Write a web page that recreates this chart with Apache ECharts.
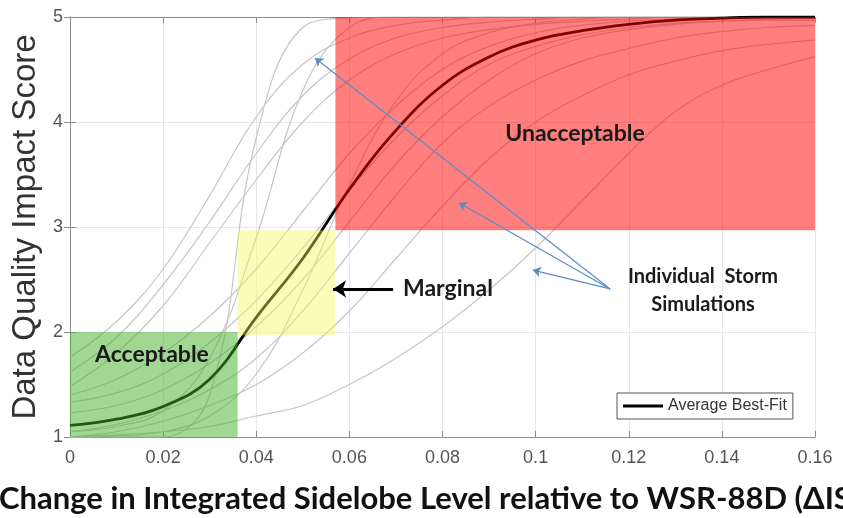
<!DOCTYPE html>
<html>
<head>
<meta charset="utf-8">
<title>Data Quality Impact Score</title>
<script src="https://cdn.jsdelivr.net/npm/echarts@6/dist/echarts.min.js"></script>
<style>
  html, body { margin: 0; padding: 0; background: #fff; }
  #chart { width: 843px; height: 518px; }
</style>
</head>
<body>
<div id="chart"></div>
<script>
const xSamples = [0, 0.01, 0.02, 0.03, 0.04, 0.05, 0.06, 0.07, 0.08, 0.09, 0.1, 0.11, 0.12, 0.13, 0.14, 0.15, 0.16]

const avgFit = [1.11, 1.17, 1.29, 1.55, 2.14, 2.7, 3.36, 3.92, 4.35, 4.62, 4.78, 4.87, 4.93, 4.97, 4.99, 5, 5]

// individual storm simulations (grey)
const storm01 = [1, 1, 1, 1.4, 3.85, 4.9, 4.99, 5, 5, 5, 5, 5, 5, 5, 5, 5, 5]
const storm02 = [1.76, 2.1, 2.6, 3.3, 4.05, 4.55, 4.8, 4.92, 4.97, 5, 5, 5, 5, 5, 5, 5, 5]
const storm03 = [1.62, 1.95, 2.45, 3.05, 3.7, 4.25, 4.6, 4.8, 4.9, 4.95, 4.98, 5, 5, 5, 5, 5, 5]
const storm04 = [1.48, 1.8, 2.25, 2.85, 3.45, 4.0, 4.4, 4.65, 4.8, 4.88, 4.93, 4.96, 4.98, 5, 5, 5, 5]
const storm05 = [1.05, 1.1, 1.25, 1.75, 2.9, 4.3, 4.9, 5, 5, 5, 5, 5, 5, 5, 5, 5, 5]
const storm06 = [1.4, 1.55, 1.8, 2.15, 2.6, 3.15, 3.7, 4.15, 4.5, 4.72, 4.85, 4.92, 4.96, 4.98, 4.99, 5, 5]
const storm07 = [1.33, 1.42, 1.6, 1.9, 2.3, 2.8, 3.35, 3.85, 4.25, 4.55, 4.72, 4.83, 4.9, 4.94, 4.96, 4.97, 4.97]
const storm08 = [1.05, 1.12, 1.25, 1.45, 1.75, 2.2, 2.75, 3.3, 3.8, 4.15, 4.4, 4.58, 4.7, 4.8, 4.86, 4.9, 4.92]
const storm09 = [1, 1.05, 1.15, 1.3, 1.5, 1.8, 2.2, 2.7, 3.2, 3.65, 4.0, 4.25, 4.45, 4.58, 4.68, 4.74, 4.78]
const storm10 = [1, 1.02, 1.05, 1.1, 1.2, 1.3, 1.5, 1.75, 2.05, 2.4, 2.8, 3.25, 3.7, 4.1, 4.35, 4.5, 4.62]
const storm11 = [1.23, 1.3, 1.45, 1.7, 2.05, 2.5, 3.05, 3.6, 4.05, 4.4, 4.65, 4.8, 4.88, 4.93, 4.96, 4.98, 4.99]
const storm12 = [1, 1.01, 1.05, 1.2, 1.6, 2.4, 3.4, 4.2, 4.65, 4.85, 4.94, 4.98, 5, 5, 5, 5, 5]
const storms = [storm01, storm02, storm03, storm04, storm05, storm06, storm07, storm08, storm09, storm10, storm11, storm12]

// acceptable / marginal / unacceptable boxes
const zoneNames = ['Acceptable', 'Marginal', 'Unacceptable']
const zoneX0 = [0, 0.036, 0.057]
const zoneX1 = [0.036, 0.057, 0.16]
const zoneY0 = [1, 1.97, 2.97]
const zoneY1 = [2, 2.97, 5]
const zoneColors = ['rgba(70,175,40,0.5)', 'rgba(245,245,90,0.42)', 'rgba(255,0,0,0.5)']

// arrows pointing at storm curves, from the label to each tip
const stormArrowFrom = [0.116, 2.41]
const stormArrowTips = [[0.0526, 4.61], [0.0835, 3.23], [0.0994, 2.59]]
const marginalArrow = [[0.0694, 2.41], [0.0565, 2.41]]

const chart = echarts.init(document.getElementById('chart'))

const axisGrey = '#8c8c8c'
const pair = (ys) => xSamples.map((x, i) => [x, ys[i]])

const stormSeries = storms.map((ys, idx) => ({
  type: 'line',
  data: pair(ys),
  smooth: 0.4,
  showSymbol: false,
  silent: true,
  z: 2,
  lineStyle: { color: '#c6c6c6', width: 1.2 },
  markLine: idx === 0 ? {
    z: 20,
    silent: true,
    symbol: ['none', 'arrow'],
    symbolSize: 8,
    label: { show: false },
    lineStyle: { color: '#5b8cc4', width: 1.2, type: 'solid' },
    data: stormArrowTips.map((tip) => [{ coord: stormArrowFrom }, { coord: tip }])
  } : undefined
}))

chart.setOption({
  animation: false,
  grid: { left: 70, right: 28, top: 17, bottom: 81 },
  legend: {
    data: ['Average Best-Fit'],
    left: 617,
    top: 393,
    icon: 'rect',
    itemWidth: 40,
    itemHeight: 3,
    padding: [5, 6, 5, 6],
    borderColor: '#555',
    borderWidth: 1,
    backgroundColor: '#fff',
    textStyle: { fontFamily: 'Liberation Sans', fontSize: 16, color: '#333' }
  },
  xAxis: [
    {
      type: 'value',
      min: 0,
      max: 0.16,
      interval: 0.02,
      axisLine: { lineStyle: { color: axisGrey } },
      axisTick: { inside: true, length: 6, lineStyle: { color: axisGrey } },
      axisLabel: { fontFamily: 'Liberation Sans', fontSize: 18, color: '#555', margin: 12 },
      splitLine: { lineStyle: { color: '#e8e8e8' } }
    },
    {
      type: 'value',
      position: 'top',
      min: 0,
      max: 0.16,
      interval: 0.02,
      axisLine: { lineStyle: { color: axisGrey } },
      axisTick: { inside: true, length: 6, lineStyle: { color: axisGrey } },
      axisLabel: { show: false },
      splitLine: { show: false }
    }
  ],
  yAxis: [
    {
      type: 'value',
      min: 1,
      max: 5,
      interval: 1,
      name: 'Data Quality Impact Score',
      nameLocation: 'middle',
      nameGap: 26,
      nameTextStyle: { fontFamily: 'Liberation Sans', fontSize: 33, color: '#333' },
      axisLine: { show: true, lineStyle: { color: axisGrey } },
      axisTick: { show: true, inside: true, length: 6, lineStyle: { color: axisGrey } },
      axisLabel: { fontFamily: 'Liberation Sans', fontSize: 18, color: '#555', margin: 7 },
      splitLine: { lineStyle: { color: '#e8e8e8' } }
    },
    {
      type: 'value',
      position: 'right',
      min: 1,
      max: 5,
      interval: 1,
      axisLine: { show: true, lineStyle: { color: axisGrey } },
      axisTick: { show: true, inside: true, length: 6, lineStyle: { color: axisGrey } },
      axisLabel: { show: false },
      splitLine: { show: false }
    }
  ],
  series: [
    ...stormSeries,
    {
      name: 'Average Best-Fit',
      type: 'line',
      data: pair(avgFit),
      smooth: 0.4,
      showSymbol: false,
      z: 3,
      itemStyle: { color: '#000' },
      lineStyle: { color: '#000', width: 2.8 },
      markLine: {
        z: 20,
        silent: true,
        symbol: ['none', 'arrow'],
        symbolSize: 13,
        label: { show: false },
        lineStyle: { color: '#000', width: 3, type: 'solid' },
        data: [[{ coord: marginalArrow[0] }, { coord: marginalArrow[1] }]]
      }
    },
    {
      type: 'custom',
      name: 'zones',
      z: 10,
      silent: true,
      data: zoneNames.map((n, i) => [zoneX0[i], zoneX1[i], zoneY0[i], zoneY1[i]]),
      encode: { x: [0, 1], y: [2, 3] },
      renderItem: (params, api) => {
        const tl = api.coord([api.value(0), api.value(3)])
        const br = api.coord([api.value(1), api.value(2)])
        return {
          type: 'rect',
          shape: { x: tl[0], y: tl[1], width: br[0] - tl[0], height: br[1] - tl[1] },
          style: { fill: zoneColors[params.dataIndex] }
        }
      }
    }
  ],
  graphic: [
    { type: 'text', z: 30, x: 575, y: 134, style: { text: 'Unacceptable', font: 'bold 23px Lato', fill: '#1a1a1a', align: 'center', verticalAlign: 'middle' } },
    { type: 'text', z: 30, x: 403, y: 289, style: { text: 'Marginal', font: 'bold 23px Lato', fill: '#1a1a1a', align: 'left', verticalAlign: 'middle' } },
    { type: 'text', z: 30, x: 95, y: 355, style: { text: 'Acceptable', font: 'bold 23px Lato', fill: '#1a1a1a', align: 'left', verticalAlign: 'middle' } },
    { type: 'text', z: 30, x: 703, y: 277, style: { text: 'Individual  Storm', font: 'bold 20px Lato', fill: '#1a1a1a', align: 'center', verticalAlign: 'middle' } },
    { type: 'text', z: 30, x: 703, y: 305, style: { text: 'Simulations', font: 'bold 20px Lato', fill: '#1a1a1a', align: 'center', verticalAlign: 'middle' } },
    { type: 'text', z: 30, x: -1, y: 499, style: { text: 'Change in Integrated Sidelobe Level relative to WSR-88D (ΔISL)', font: 'bold 31px Lato', fill: '#111', align: 'left', verticalAlign: 'middle' } }
  ]
})
</script>
</body>
</html>
